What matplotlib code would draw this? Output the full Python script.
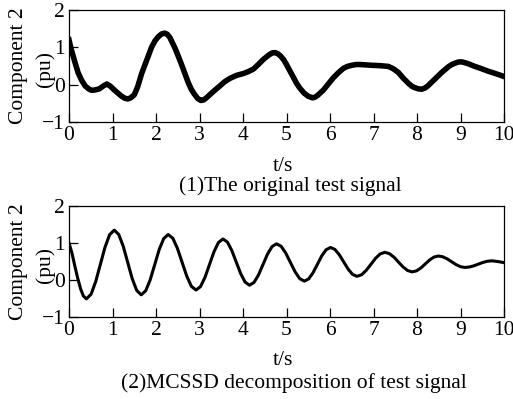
import matplotlib
matplotlib.use('Agg')
import matplotlib.pyplot as plt

# (1) original test signal
t_orig = [0.0, 0.05, 0.1, 0.15, 0.21, 0.29, 0.37, 0.45, 0.52, 0.6, 0.7, 0.78, 0.87, 0.95,
          1.06, 1.2, 1.28, 1.35, 1.42, 1.5, 1.58, 1.67, 1.8, 1.9, 1.98, 2.05, 2.13, 2.2,
          2.26, 2.32, 2.44, 2.52, 2.6, 2.67, 2.74, 2.81, 2.88, 2.96, 3.03, 3.09, 3.15,
          3.28, 3.38, 3.47, 3.58, 3.7, 3.85, 4.01, 4.12, 4.24, 4.35, 4.47, 4.6, 4.67,
          4.74, 4.8, 4.87, 4.94, 5.0, 5.06, 5.12, 5.18, 5.23, 5.3, 5.4, 5.5, 5.6, 5.66,
          5.72, 5.85, 5.96, 6.08, 6.2, 6.31, 6.4, 6.5, 6.6, 6.7, 6.83, 6.96, 7.15, 7.34,
          7.45, 7.57, 7.68, 7.8, 7.88, 7.95, 8.03, 8.11, 8.18, 8.25, 8.33, 8.41, 8.56,
          8.72, 8.8, 8.88, 8.96, 9.03, 9.1, 9.18, 9.33, 9.48, 9.64, 9.8, 9.95, 10.0]
y_orig = [1.2, 0.95, 0.75, 0.55, 0.32, 0.12, -0.03, -0.11, -0.15, -0.14, -0.11, -0.04,
          0.02, -0.04, -0.16, -0.3, -0.36, -0.38, -0.35, -0.27, -0.05, 0.3, 0.7, 1.01,
          1.18, 1.28, 1.36, 1.38, 1.35, 1.26, 0.97, 0.74, 0.5, 0.28, 0.06, -0.12, -0.25,
          -0.37, -0.42, -0.41, -0.36, -0.22, -0.12, -0.03, 0.08, 0.17, 0.25, 0.3, 0.35,
          0.42, 0.54, 0.68, 0.8, 0.85, 0.86, 0.83, 0.76, 0.66, 0.54, 0.41, 0.28, 0.15,
          0.04, -0.08, -0.22, -0.31, -0.35, -0.33, -0.28, -0.14, 0.02, 0.19, 0.33, 0.44,
          0.49, 0.52, 0.54, 0.54, 0.53, 0.52, 0.51, 0.49, 0.43, 0.33, 0.18, 0.04, -0.04,
          -0.08, -0.11, -0.12, -0.09, -0.03, 0.06, 0.15, 0.32, 0.48, 0.54, 0.58, 0.61,
          0.61, 0.59, 0.56, 0.49, 0.43, 0.36, 0.3, 0.24, 0.22]

# (2) MCSSD component
t_dec = [0.0, 0.07, 0.13, 0.2, 0.27, 0.33, 0.4,
         0.507, 0.613, 0.72, 0.827, 0.933, 1.04,
         1.143, 1.247, 1.35, 1.453, 1.557, 1.66,
         1.763, 1.867, 1.97, 2.073, 2.177, 2.28,
         2.387, 2.493, 2.6, 2.707, 2.813, 2.92,
         3.023, 3.127, 3.23, 3.333, 3.437, 3.54,
         3.642, 3.743, 3.845, 3.947, 4.048, 4.15,
         4.253, 4.357, 4.46, 4.563, 4.667, 4.77,
         4.877, 4.983, 5.09, 5.197, 5.303, 5.41,
         5.51, 5.61, 5.71, 5.81, 5.91, 6.01,
         6.112, 6.213, 6.315, 6.417, 6.518, 6.62,
         6.727, 6.833, 6.94, 7.047, 7.153, 7.26,
         7.365, 7.47, 7.575, 7.68, 7.785, 7.89,
         7.99, 8.09, 8.19, 8.29, 8.39, 8.49,
         8.592, 8.693, 8.795, 8.897, 8.998, 9.1,
         9.203, 9.307, 9.41, 9.513, 9.617, 9.72,
         9.86, 10.0]
y_dec = [1.0, 0.72, 0.4, 0.05, -0.25, -0.43, -0.51,
         -0.385, -0.045, 0.42, 0.885, 1.225, 1.35,
         1.233, 0.913, 0.475, 0.038, -0.283, -0.4,
         -0.291, 0.008, 0.415, 0.823, 1.121, 1.23,
         1.13, 0.855, 0.48, 0.105, -0.17, -0.27,
         -0.178, 0.075, 0.42, 0.765, 1.018, 1.11,
         1.026, 0.798, 0.485, 0.173, -0.056, -0.14,
         -0.065, 0.14, 0.42, 0.7, 0.905, 0.98,
         0.912, 0.728, 0.475, 0.223, 0.038, -0.03,
         0.031, 0.198, 0.425, 0.653, 0.819, 0.88,
         0.828, 0.685, 0.49, 0.295, 0.152, 0.1,
         0.144, 0.263, 0.425, 0.588, 0.706, 0.75,
         0.714, 0.618, 0.485, 0.353, 0.256, 0.22,
         0.249, 0.328, 0.435, 0.543, 0.621, 0.65,
         0.629, 0.573, 0.495, 0.418, 0.361, 0.34,
         0.352, 0.385, 0.43, 0.475, 0.508, 0.52,
         0.5, 0.47]

captions = ['(1)The original test signal', '(2)MCSSD decomposition of test signal']

plt.rcParams['font.family'] = ['Liberation Serif', 'DejaVu Serif']
plt.rcParams['font.size'] = 15.5

fig = plt.figure(figsize=(5.13, 3.99), dpi=100)
ax1 = fig.add_axes([0.1345, 0.694, 0.848, 0.281])
ax2 = fig.add_axes([0.1345, 0.2055, 0.848, 0.278])

ax1.plot(t_orig, y_orig, color='black', lw=4, solid_joinstyle='round')
ax2.plot(t_dec, y_dec, color='black', lw=2.2, solid_joinstyle='round')

for ax, cap, cx, cy in zip([ax1, ax2], captions, [0.565, 0.573], [0.534, 0.041]):
    ax.set_xlim(0, 10)
    ax.set_ylim(-1, 2)
    ax.set_xticks(range(11))
    ax.set_yticks([-1, 0, 1, 2])
    ax.tick_params(direction='in', length=6.5, width=0.9, top=False, right=False, pad=3)
    for s in ax.spines.values():
        s.set_linewidth(0.9)
    ax.set_xlabel('t/s')
    ax.xaxis.set_label_coords(0.492, -0.31)
    ax.set_ylabel('Component 2')
    ax.yaxis.set_label_coords(-0.094, 0.5)
    ax.text(-0.056, 0.47, '(pu)', rotation=90, ha='center', va='center',
            transform=ax.transAxes)
    fig.text(cx, cy, cap, ha='center', va='center')

fig.savefig('out.png', dpi=100)
